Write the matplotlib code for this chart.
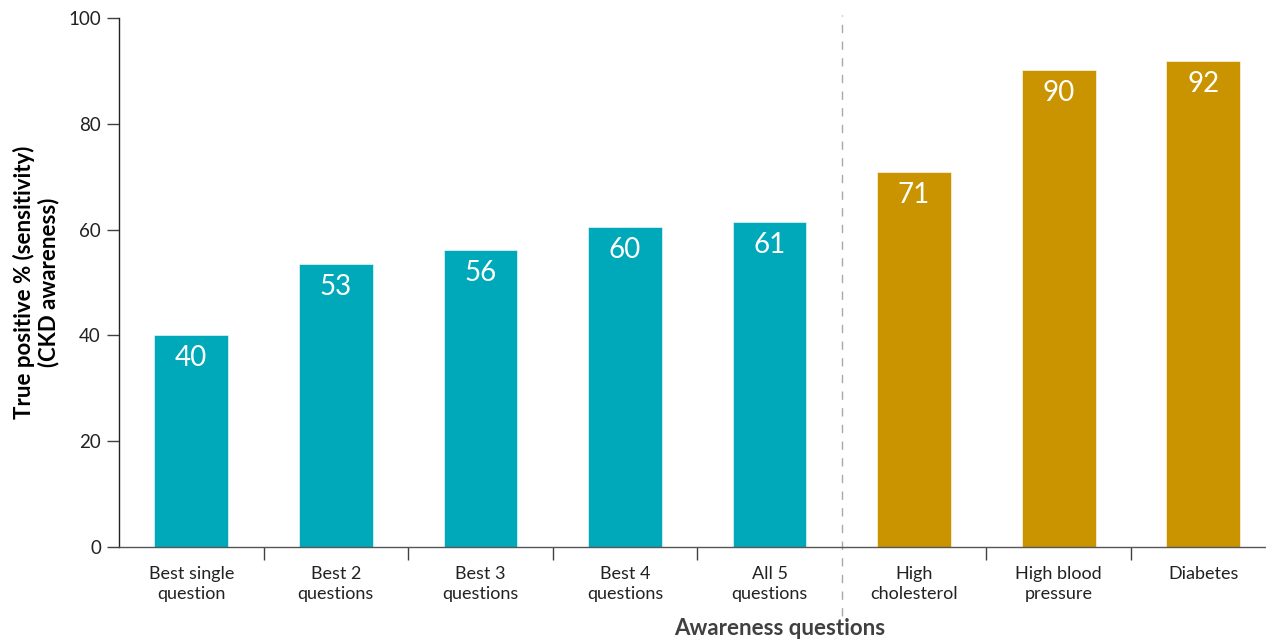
import numpy as np
import matplotlib
matplotlib.use("Agg")
import matplotlib.pyplot as plt

# --- Data ---
categories = ['Best single\nquestion', 'Best 2\nquestions', 'Best 3\nquestions',
              'Best 4\nquestions', 'All 5\nquestions', 'High\ncholesterol',
              'High blood\npressure', 'Diabetes']
bar_values = [40.1, 53.5, 56.1, 60.5, 61.4, 70.9, 90.2, 91.9]
value_labels = ['40', '53', '56', '60', '61', '71', '90', '92']
groups = ['awareness'] * 5 + ['condition'] * 3
y_ticks = [0, 20, 40, 60, 80, 100]

TEAL = '#00A9BA'
GOLD = '#CA9400'
group_colors = {'awareness': TEAL, 'condition': GOLD}

plt.rcParams['font.family'] = ['Lato', 'DejaVu Sans']

fig = plt.figure(figsize=(12.66, 6.41), dpi=100)
ax = fig.add_axes([0.094, 0.1466, 0.9135, 0.8253])

x = np.arange(len(categories))
colors = [group_colors[g] for g in groups]
bars = ax.bar(x, bar_values, width=0.51, color=colors, edgecolor='white', linewidth=0.4)

# value labels inside top of bars
for b, lab in zip(bars, value_labels):
    ax.annotate(lab, (b.get_x() + b.get_width() / 2, b.get_height()),
                xytext=(0, -7), textcoords='offset points', ha='center', va='top',
                color='white', fontsize=20)

ax.set_xlim(-0.5, 7.5)
ax.set_ylim(0, 100)

# y axis
ax.set_yticks(y_ticks)
ax.tick_params(axis='y', length=9, width=1, color='#404040', labelsize=13.5,
               labelcolor='#222222', pad=4)

# x axis: labels at centers, tick marks between categories
ax.set_xticks(x)
ax.set_xticklabels(categories, fontsize=13, color='#222222', linespacing=1.3)
ax.tick_params(axis='x', which='major', length=0, pad=14)
sep = [0.5, 1.5, 2.5, 3.5, 5.5, 6.5]
ax.set_xticks(sep, minor=True)
ax.tick_params(axis='x', which='minor', length=9.5, width=1, color='#404040')

for s in ['top', 'right']:
    ax.spines[s].set_visible(False)
ax.spines['left'].set_color('#222222')
ax.spines['bottom'].set_color('#555555')
ax.spines['left'].set_linewidth(1)
ax.spines['bottom'].set_linewidth(1)

# dashed separator between groups
ax.axvline(4.5, ymin=-0.13, ymax=1.006, color='#A8A8A8', linestyle=(0, (6, 6)),
           linewidth=1, clip_on=False)

ax.set_ylabel('True positive % (sensitivity)\n(CKD awareness)', fontsize=16,
              fontweight='bold', color='black', linespacing=1.1)
ax.yaxis.set_label_coords(-0.052, 0.5)
ax.set_xlabel('Awareness questions', fontsize=16, fontweight='bold', color='#404040')
ax.xaxis.set_label_coords(0.571, -0.135)

fig.savefig('out.png', dpi=100)
